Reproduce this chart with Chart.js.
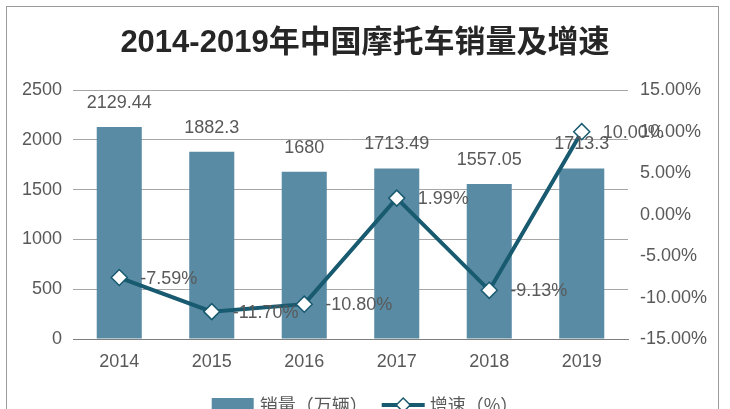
<!DOCTYPE html>
<html>
<head>
<meta charset="utf-8">
<script src="https://cdn.jsdelivr.net/npm/chart.js@4.4.1/dist/chart.umd.min.js"></script>
<style>
  body { margin: 0; background: #fff; }
  #wrap { position: relative; width: 730px; height: 409px; overflow: hidden; }
  #frame { position: absolute; left: 6px; top: 6px; width: 711px; height: 430px; border: 1px solid #9c9c9c; }
  #chart { position: absolute; left: 0; top: 0; }
</style>
</head>
<body>
<div id="wrap">
  <div id="frame"></div>
  <canvas id="chart" width="730" height="409"></canvas>
</div>
<script>
// chart data
const years = ['2014', '2015', '2016', '2017', '2018', '2019'];
const sales = [2129.44, 1882.3, 1680, 1713.49, 1557.05, 1713.3];
const growth = [-7.59, -11.70, -10.80, 1.99, -9.13, 10.00];
const salesLabels = ['2129.44', '1882.3', '1680', '1713.49', '1557.05', '1713.3'];
const growthLabels = ['-7.59%', '-11.70%', '-10.80%', '1.99%', '-9.13%', '10.00%'];

const FONT = '"Liberation Sans", Arial, "Noto Sans CJK SC", sans-serif';
const BAR_COLOR = '#5a8ba4';
const LINE_COLOR = '#185a6f';
const TEXT_COLOR = '#595959';

// value labels above bars and beside points
const labelPlugin = {
    id: 'valueLabels',
    afterDatasetsDraw(chart) {
        const ctx = chart.ctx;
        ctx.save();
        ctx.font = '18px ' + FONT;
        ctx.fillStyle = TEXT_COLOR;
        ctx.textBaseline = 'middle';

        ctx.textAlign = 'center';
        chart.getDatasetMeta(1).data.forEach((bar, i) => {
            ctx.fillText(salesLabels[i], bar.x, bar.y - 24);
        });

        ctx.textAlign = 'left';
        chart.getDatasetMeta(0).data.forEach((pt, i) => {
            ctx.fillText(growthLabels[i], pt.x + 21, pt.y + 1);
        });
        ctx.restore();
    }
};

// bottom legend
const legendPlugin = {
    id: 'bottomLegend',
    afterDraw(chart) {
        const ctx = chart.ctx;
        ctx.save();
        ctx.font = '18px "Noto Sans CJK SC", ' + FONT;
        ctx.fillStyle = TEXT_COLOR;
        ctx.textBaseline = 'middle';
        ctx.textAlign = 'left';
        const t1 = '销量（万辆）';
        const t2 = '增速（%）';
        const w1 = ctx.measureText(t1).width;
        const w2 = ctx.measureText(t2).width;
        const total = 42 + 6 + w1 + 14 + 43 + 5 + w2;
        let x = 365 - total / 2;
        const y = 405;

        ctx.fillStyle = BAR_COLOR;
        ctx.fillRect(x, y - 7, 42, 14);
        x += 48;
        ctx.fillStyle = TEXT_COLOR;
        ctx.fillText(t1, x, y);
        x += w1 + 14;

        ctx.strokeStyle = LINE_COLOR;
        ctx.lineWidth = 4;
        ctx.beginPath();
        ctx.moveTo(x, y);
        ctx.lineTo(x + 43, y);
        ctx.stroke();
        const cx = x + 21.5;
        ctx.beginPath();
        ctx.moveTo(cx, y - 7);
        ctx.lineTo(cx + 7, y);
        ctx.lineTo(cx, y + 7);
        ctx.lineTo(cx - 7, y);
        ctx.closePath();
        ctx.fillStyle = '#ffffff';
        ctx.fill();
        ctx.lineWidth = 1.5;
        ctx.stroke();
        x += 48;

        ctx.fillStyle = TEXT_COLOR;
        ctx.fillText(t2, x, y);
        ctx.restore();
    }
};

new Chart(document.getElementById('chart'), {
    type: 'bar',
    data: {
        labels: years,
        datasets: [
            {
                type: 'line',
                label: '增速（%）',
                data: growth,
                yAxisID: 'y1',
                borderColor: LINE_COLOR,
                borderWidth: 4,
                tension: 0,
                pointStyle: 'rectRot',
                pointRadius: 8,
                pointBackgroundColor: '#ffffff',
                pointBorderColor: LINE_COLOR,
                pointBorderWidth: 1.5,
                order: 0
            },
            {
                label: '销量（万辆）',
                data: sales,
                yAxisID: 'y',
                backgroundColor: BAR_COLOR,
                categoryPercentage: 1,
                barPercentage: 0.487,
                order: 1
            }
        ]
    },
    options: {
        responsive: false,
        animation: false,
        layout: {
            padding: { left: 0, right: 0, top: 0, bottom: 0 }
        },
        plugins: {
            legend: { display: false },
            tooltip: { enabled: false },
            title: {
                display: true,
                text: '2014-2019年中国摩托车销量及增速',
                color: '#262626',
                font: { family: FONT, size: 31, weight: 'bold' },
                padding: { top: 25, bottom: 28 }
            }
        },
        scales: {
            x: {
                grid: { display: false, drawTicks: false },
                border: { display: true, color: '#7f7f7f', width: 1 },
                ticks: {
                    color: TEXT_COLOR,
                    font: { family: FONT, size: 18 },
                    padding: 12
                },
                afterFit(scale) { scale.height = 70; }
            },
            y: {
                position: 'left',
                min: 0,
                max: 2500,
                grid: { color: '#a6a6a6', drawTicks: false },
                border: { display: false },
                ticks: {
                    stepSize: 500,
                    color: TEXT_COLOR,
                    font: { family: FONT, size: 18 },
                    padding: 11,
                    callback: v => String(v)
                },
                afterFit(scale) { scale.width = 73; }
            },
            y1: {
                position: 'right',
                min: -15,
                max: 15,
                grid: { display: false, drawTicks: false },
                border: { display: false },
                ticks: {
                    stepSize: 5,
                    color: TEXT_COLOR,
                    font: { family: FONT, size: 18 },
                    padding: 12,
                    callback: v => v.toFixed(2) + '%'
                },
                afterFit(scale) { scale.width = 102; }
            }
        }
    },
    plugins: [labelPlugin, legendPlugin]
});
</script>
</body>
</html>
